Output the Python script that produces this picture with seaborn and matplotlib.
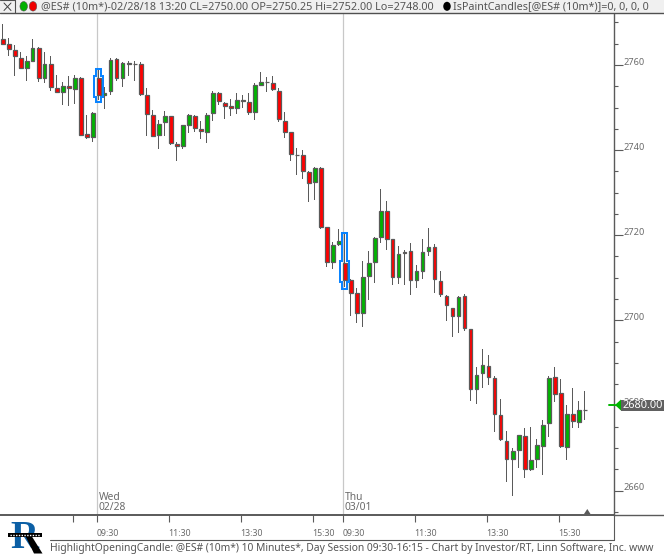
import numpy as np
import pandas as pd
import seaborn as sns
import matplotlib.pyplot as plt
from matplotlib.patches import Polygon, Rectangle, Ellipse

# 10 minute bars, Wed 02/28 afternoon session part + Thu 03/01
opens = [2766, 2765, 2763.5, 2761.75, 2759.25, 2761, 2764, 2757, 2760.25, 2754.5, 2753.75, 2755, 2754.25, 2757,
         2743.75, 2743, 2757, 2753, 2754, 2761.5, 2757, 2760.25, 2760.25, 2760.25, 2753, 2748.25, 2743.5, 2746.5,
         2748, 2741.5, 2741, 2746, 2748, 2745, 2744.25, 2748.75, 2753.5, 2751, 2750.25, 2750, 2751.5, 2751.25,
         2749, 2755.25, 2756, 2755.75, 2754, 2746.75, 2744.25, 2738.75, 2738.75, 2734.75, 2732.5, 2735.75, 2722,
         2713.75, 2718, 2713.5, 2709.5, 2706.5, 2701.75, 2710.5, 2713.75, 2719.5, 2725.75, 2719, 2710.25, 2716,
         2716.25, 2709.5, 2711.5, 2716.25, 2717.25, 2709.25, 2705.75, 2703, 2701, 2705.75, 2698, 2683.75, 2687.5,
         2689.25, 2686.5, 2677.75, 2671.75, 2667.5, 2669.5, 2672.75, 2665, 2667.5, 2670.5, 2675.75, 2686.75, 2683,
         2670.25, 2678, 2676, 2679]
highs = [2769.75, 2766.25, 2764.75, 2763, 2762, 2766, 2764.25, 2763, 2762, 2757.75, 2756, 2757.5, 2757.75, 2757.25,
         2748.25, 2749, 2758.75, 2754.75, 2761.75, 2761.75, 2760.75, 2761, 2761, 2760.75, 2754.5, 2749.5, 2747,
         2749.25, 2748, 2742, 2746, 2748.5, 2748.25, 2746.75, 2748.75, 2754, 2753.75, 2751.25, 2752, 2753.5, 2753,
         2753.5, 2755.75, 2758.25, 2757.25, 2757.5, 2754.5, 2749, 2744.25, 2740.5, 2740, 2735, 2736, 2736, 2722,
         2718.5, 2721.5, 2720.25, 2709.75, 2707.5, 2714, 2716.25, 2719.5, 2730.75, 2728, 2719, 2717.5, 2716.5,
         2718.25, 2713, 2719, 2721.75, 2718, 2711.5, 2706, 2703, 2705.75, 2706.25, 2698, 2689, 2693.25, 2691.75, 2687,
         2681.5, 2674, 2670, 2673, 2674.75, 2675, 2672, 2676.5, 2687, 2689, 2686.25, 2680, 2684, 2681, 2683.5]
lows = [2764.75, 2762, 2757.5, 2759, 2756.25, 2760.75, 2756, 2755.75, 2754, 2753.5, 2750.5, 2750.25, 2750.75, 2743.25,
        2742.5, 2742, 2751.75, 2749.75, 2753, 2756.25, 2754.75, 2757.5, 2756.25, 2752.75, 2743.25, 2743.25, 2740.25,
        2743.25, 2741.25, 2737.5, 2740.25, 2744, 2744.25, 2742.5, 2741.75, 2746.75, 2750.5, 2747.25, 2748, 2748.5,
        2750, 2748.25, 2747, 2755, 2753.75, 2754, 2746.5, 2742.75, 2737.5, 2734.25, 2733.25, 2727.75, 2728.25,
        2721.5, 2712.5, 2712, 2717.5, 2707.75, 2701, 2699.25, 2698.5, 2704.75, 2708.75, 2718.25, 2716.5, 2708.25,
        2708.5, 2708.25, 2706, 2707.5, 2709.75, 2715, 2706.5, 2705.5, 2699.75, 2696, 2697, 2697.5, 2681, 2680.25,
        2684, 2684.75, 2673.75, 2671.75, 2662, 2658.75, 2665.25, 2663, 2664.5, 2665.25, 2663.75, 2672.5, 2680.75,
        2670, 2667.25, 2674.75, 2674.75, 2676.5]
closes = [2765, 2763.75, 2762, 2759.25, 2761, 2764, 2757, 2760.25, 2754.75, 2753.75, 2755, 2754.5, 2757, 2743.5,
          2743, 2748.75, 2753, 2753.5, 2761.25, 2757, 2760.5, 2760.5, 2760.25, 2753.25, 2748.5, 2743.25, 2746.25, 2748,
          2741.75, 2741, 2746, 2748.25, 2745.25, 2744.5, 2748.25, 2753.5, 2751.5, 2750.25, 2750, 2751.75, 2751.75,
          2749, 2755.25, 2756, 2756, 2754.25, 2747.25, 2744.25, 2739, 2738.75, 2735, 2732.25, 2735.75, 2722, 2713.75,
          2717.75, 2718.75, 2709.5, 2706.5, 2701.75, 2710.25, 2713.5, 2719.25, 2725.75, 2719, 2710.25, 2715.5, 2715.75,
          2709.5, 2711.5, 2716, 2717.25, 2709.75, 2706.25, 2703.5, 2701, 2705.5, 2698.25, 2683.75, 2687.25, 2689.5,
          2686.75, 2678, 2672, 2667.5, 2669.25, 2673, 2665, 2667.25, 2670.75, 2675.5, 2686.5, 2682.75, 2670.5, 2678,
          2676.25, 2679, 2679]

time_labels = ["09:30", "11:30", "13:30", "15:30", "09:30", "11:30", "13:30", "15:30"]
price_ticks = [2660, 2680, 2700, 2720, 2740, 2760]
last_price = 2680.00
open_bars = [16, 57]   # position in the lists of the two opening candles

W, H = 664, 556
PX_BAR = 6.0
BAR0_X = 2.5           # pixel centre of first bar
PX_PRICE = 85.1 / 20   # pixels per point
Y2760 = 65.0

GREEN = "#00b400"
RED = "#ff0000"
DARK = "#5a5a5a"
TXT = "#6a6a6a"

sns.set_theme(style="white")
plt.rcParams["font.family"] = ["Noto Sans", "DejaVu Sans"]

df = pd.DataFrame({"bar": np.arange(len(opens)), "open": opens, "high": highs, "low": lows, "close": closes})
df["top"] = df[["open", "close"]].max(axis=1)
df["bot"] = df[["open", "close"]].min(axis=1)
df["body"] = df["top"] - df["bot"]
df["wick"] = df["high"] - df["low"]
df["up"] = df["close"] > df["open"]

fig = plt.figure(figsize=(W / 100, H / 100), dpi=100, facecolor="white")
top_px, bot_px, right_px = 14.0, 514.5, 613.5
ax = fig.add_axes([0, 1 - bot_px / H, right_px / W, (bot_px - top_px) / H])

sns.barplot(data=df, x="bar", y="wick", bottom=df["low"], native_scale=True, width=1 / PX_BAR,
            color=DARK, saturation=1, errorbar=None, linewidth=0, ax=ax)
for up, col in [(True, GREEN), (False, RED)]:
    sub = df[df["up"] == up]
    sns.barplot(data=sub, x="bar", y="body", bottom=sub["bot"], native_scale=True, width=4 / PX_BAR,
                color=col, saturation=1, errorbar=None, edgecolor=DARK, linewidth=0.9, ax=ax)

ax.set_xlim(-BAR0_X / PX_BAR, (right_px - BAR0_X) / PX_BAR)
ax.set_ylim(2760 - (bot_px - Y2760) / PX_PRICE, 2760 + (Y2760 - top_px) / PX_PRICE)
ax.set_xlabel("")
ax.set_ylabel("")

# session lines and time ticks sit a little left of the bar centre
tick_shift = -2 / PX_BAR
session_x = [b + tick_shift for b in open_bars]
for sx in session_x:
    ax.axvline(sx, color="#c8c8c8", lw=0.9, zorder=0)
ticks_x = [open_bars[0] - 4, open_bars[0], open_bars[0] + 12, open_bars[0] + 24, open_bars[0] + 36,
           open_bars[1], open_bars[1] + 12, open_bars[1] + 24, open_bars[1] + 36]
ax.set_xticks([t + tick_shift for t in ticks_x])
ax.set_xticklabels([""] * len(ticks_x))
ax.tick_params(axis="x", bottom=True, length=5.2, width=0.8, color=DARK)
for t, lab in zip(ticks_x[1:], time_labels):
    ax.annotate(lab, (t + tick_shift, 0), xycoords=("data", "axes fraction"), xytext=(0, -18.5),
                textcoords="offset pixels", fontsize=6.3, color=TXT, ha="left", va="center")

# right price axis
ax.yaxis.tick_right()
ax.set_yticks(price_ticks)
ax.set_yticklabels([str(p) for p in price_ticks])
ax.set_yticks(np.arange(2655, 2775, 5), minor=True)
ax.tick_params(axis="y", which="major", right=True, length=6.5, width=0.8, color=DARK, pad=0.5,
               labelsize=6.6, labelcolor=TXT)
ax.tick_params(axis="y", which="minor", right=True, length=2.9, width=0.8, color=DARK)
for lab in ax.get_yticklabels():
    lab.set_verticalalignment("baseline")

for side in ["top", "left"]:
    ax.spines[side].set_visible(False)
ax.spines["right"].set_color(DARK)
ax.spines["right"].set_linewidth(1.0)
ax.spines["bottom"].set_color(DARK)
ax.spines["bottom"].set_linewidth(1.4)
ax.grid(False)

# day labels
for sx, day, date in zip(session_x, ["Wed", "Thu"], ["02/28", "03/01"]):
    ax.annotate(day, (sx, 0), xycoords=("data", "axes fraction"), xytext=(2, 17.5), textcoords="offset pixels",
                fontsize=7.4, color=TXT, ha="left", va="center")
    ax.annotate(date, (sx, 0), xycoords=("data", "axes fraction"), xytext=(2, 6.5), textcoords="offset pixels",
                fontsize=7.4, color=TXT, ha="left", va="center")

# blue outline round the opening candles
for b in open_bars:
    row = df.iloc[b]
    nx, wx = 2.3 / PX_BAR, 4.3 / PX_BAR
    wy, by = 1.5 / PX_PRICE, 2.0 / PX_PRICE
    xs = [b - nx, b - nx, b - wx, b - wx, b - nx, b - nx, b + nx, b + nx, b + wx, b + wx, b + nx, b + nx, b - nx]
    ys = [row["high"] + wy, row["top"] + by, row["top"] + by, row["bot"] - by, row["bot"] - by, row["low"] - wy,
          row["low"] - wy, row["bot"] - by, row["bot"] - by, row["top"] + by, row["top"] + by, row["high"] + wy,
          row["high"] + wy]
    ax.plot(xs, ys, color="#0a84ff", lw=1.45, solid_joinstyle="miter", zorder=6)

# overlay in pixel units for the window chrome
ov = fig.add_axes([0, 0, 1, 1], facecolor="none")
ov.set_xlim(0, W)
ov.set_ylim(H, 0)
ov.axis("off")

# header strip
ov.add_patch(Rectangle((0, 0), W, 13, fc="#f0f0f0", ec="none"))
ov.plot([0, W], [13.3, 13.3], color="#505050", lw=1.0)
ov.plot([0, 14.5], [0.3, 0.3], color="#505050", lw=0.8)
ov.plot([14.5, 14.5], [0, 13], color="#505050", lw=0.8)
ov.plot([4, 11], [3, 10.5], color="#404040", lw=0.7)
ov.plot([4, 11], [10.5, 3], color="#404040", lw=0.7)
ov.add_patch(Ellipse((23.7, 6.3), 7.5, 9.5, fc="#00b000", ec="#555555", lw=0.4, zorder=3))
ov.add_patch(Ellipse((33, 6.3), 7.5, 9.5, fc="#f00000", ec="#555555", lw=0.4, zorder=3))
ov.add_patch(Ellipse((447, 6.3), 7.5, 9, fc="black", ec="none", zorder=3))
ov.text(41, 7, "@ES# (10m*)-02/28/18 13:20 CL=2750.00 OP=2750.25 Hi=2752.00 Lo=2748.00",
        fontsize=7.8, color="#555555", va="center", ha="left")
ov.text(453, 7, "IsPaintCandles[@ES# (10m*)]=0, 0, 0, 0", fontsize=7.75, color="#555555", va="center", ha="left")

# last price marker
ov.plot([609, 615], [405, 405], color=GREEN, lw=1.4)
ov.add_patch(Polygon([[615, 405], [621, 399.5], [621, 410.5]], fc=GREEN, ec="none", zorder=3))
ov.add_patch(Rectangle((621, 400), 43, 11, fc="#606060", ec="none", zorder=3))
ov.text(622.5, 405.5, f"{last_price:.2f}", fontsize=7.9, color="white", va="center", ha="left", zorder=4)

# small marker on the time axis
ov.add_patch(Polygon([[584, 514], [587.3, 509], [590.5, 514]], fc=DARK, ec="none"))

# footer
ov.plot([664, right_px], [bot_px, bot_px], color=DARK, lw=1.0)
ov.plot([right_px, right_px], [bot_px, 539.5], color=DARK, lw=0.8)
ov.plot([50, right_px], [539.5, 539.5], color=DARK, lw=0.8)
ov.text(50, 549, "HighlightOpeningCandle: @ES# (10m*) 10 Minutes*, Day Session 09:30-16:15 - Chart by "
        "Investor/RT, Linn Software, Inc. www", fontsize=7.42, color="#555555", va="center", ha="left")

# logo
ov.text(10.5, 548, "R", fontsize=28, family="Liberation Serif", weight="bold", color="#0b5fa5", va="baseline", ha="left")
ov.add_patch(Polygon([[25, 535], [31, 535], [42.5, 553.5], [34, 553.5]], fc="black", ec="none", zorder=4))
ov.add_patch(Rectangle((8, 532.5), 34, 4.5, fc="black", ec="none", zorder=4))
ov.plot([10, 40], [534.7, 534.7], color="white", lw=1.0, ls=(0, (1, 1)), zorder=5)

fig.savefig("out.png", dpi=100)
